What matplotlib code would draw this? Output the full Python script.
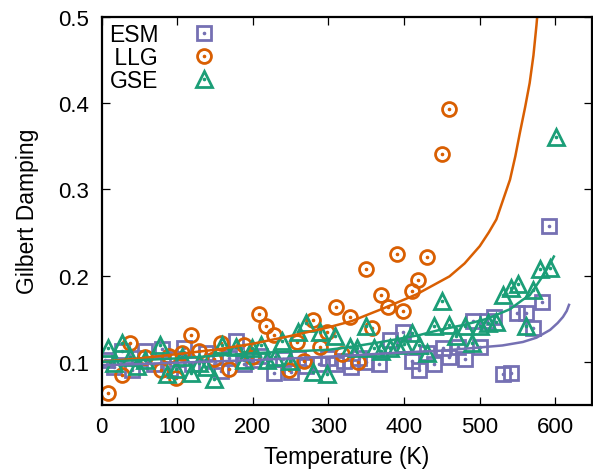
import numpy as np
import matplotlib.pyplot as plt
from matplotlib.legend_handler import HandlerTuple

plt.rcParams['font.family'] = ['Liberation Sans', 'DejaVu Sans']

# Gnuplot Dark2-like colours
c_esm = '#7570b3'
c_llg = '#d95f02'
c_gse = '#1b9e77'

# ESM data (temperature K, damping)
esm_t = [5, 16, 27, 40, 50, 58, 70, 80, 91, 100, 109, 120, 138, 150, 158, 168,
         178, 188, 200, 210, 228, 240, 251, 260, 270, 288, 300, 310, 320, 330,
         340, 350, 367, 381, 398, 410, 420, 430, 440, 451, 460, 471, 480, 491,
         500, 509, 519, 531, 541, 549, 561, 570, 582, 591]
esm_a = [0.102, 0.094, 0.113, 0.090, 0.104, 0.112, 0.097, 0.115, 0.092, 0.103,
         0.116, 0.097, 0.110, 0.101, 0.089, 0.105, 0.124, 0.098, 0.102, 0.107,
         0.087, 0.103, 0.088, 0.105, 0.095, 0.098, 0.104, 0.097, 0.101, 0.094,
         0.104, 0.100, 0.097, 0.125, 0.134, 0.101, 0.090, 0.110, 0.097, 0.116,
         0.106, 0.117, 0.103, 0.147, 0.117, 0.147, 0.152, 0.086, 0.087, 0.157,
         0.157, 0.139, 0.169, 0.257]

# LLG data
llg_t = [9, 27, 38, 58, 78, 89, 98, 106, 118, 129, 149, 158, 168, 188, 199,
         208, 218, 228, 248, 259, 268, 279, 289, 298, 310, 318, 329, 339, 350,
         358, 370, 379, 390, 399, 410, 419, 430, 450, 460]
llg_a = [0.064, 0.085, 0.122, 0.106, 0.091, 0.107, 0.081, 0.110, 0.131, 0.112,
         0.103, 0.122, 0.092, 0.120, 0.106, 0.156, 0.141, 0.131, 0.091, 0.123,
         0.101, 0.148, 0.117, 0.134, 0.164, 0.109, 0.152, 0.100, 0.207, 0.139,
         0.177, 0.164, 0.225, 0.159, 0.182, 0.195, 0.221, 0.341, 0.393]

# GSE data
gse_t = [8, 16, 27, 38, 47, 58, 77, 86, 98, 106, 118, 129, 138, 149, 159, 178,
         188, 199, 211, 219, 229, 239, 249, 260, 270, 279, 289, 298, 309, 329,
         338, 349, 360, 370, 381, 390, 400, 410, 420, 430, 439, 450, 460, 469,
         480, 490, 500, 511, 521, 531, 541, 551, 561, 570, 580, 593, 601]
gse_a = [0.116, 0.099, 0.122, 0.106, 0.095, 0.102, 0.120, 0.086, 0.092, 0.106,
         0.087, 0.099, 0.094, 0.080, 0.120, 0.117, 0.102, 0.116, 0.120, 0.102,
         0.106, 0.124, 0.101, 0.134, 0.145, 0.088, 0.135, 0.086, 0.130, 0.117,
         0.116, 0.142, 0.116, 0.113, 0.116, 0.120, 0.121, 0.133, 0.120, 0.110,
         0.142, 0.170, 0.143, 0.130, 0.142, 0.122, 0.142, 0.145, 0.146, 0.178,
         0.186, 0.190, 0.142, 0.183, 0.207, 0.209, 0.361]

# fitted curves
esm_fit_t = [0, 100, 200, 300, 400, 450, 491, 530, 557, 575, 593, 603, 610, 615, 618]
esm_fit_a = [0.096, 0.099, 0.102, 0.106, 0.111, 0.113, 0.116, 0.119, 0.123,
             0.128, 0.137, 0.145, 0.152, 0.159, 0.166]
llg_fit_t = [0, 50, 100, 150, 200, 250, 300, 330, 370, 416, 460, 480, 500, 512,
             522, 531, 540, 547, 553, 560, 566, 571, 575, 578]
llg_fit_a = [0.100, 0.104, 0.109, 0.114, 0.121, 0.130, 0.140, 0.147, 0.161,
             0.178, 0.199, 0.214, 0.234, 0.250, 0.265, 0.288, 0.311, 0.338,
             0.365, 0.395, 0.423, 0.455, 0.490, 0.52]
gse_fit_t = [0, 100, 200, 300, 327, 370, 420, 447, 480, 510, 540, 557, 566, 580, 590, 598]
gse_fit_a = [0.100, 0.104, 0.110, 0.114, 0.117, 0.123, 0.131, 0.137, 0.143,
             0.150, 0.161, 0.172, 0.177, 0.195, 0.209, 0.222]

fig = plt.figure(figsize=(5.93, 4.77), dpi=100)
ax = fig.add_axes([0.1712, 0.1488, 0.8266, 0.8145])

ms = {'s': 9.5, 'o': 10, '^': 11}
handles = []
for t, a, m, c in [(esm_t, esm_a, 's', c_esm), (llg_t, llg_a, 'o', c_llg),
                   (gse_t, gse_a, '^', c_gse)]:
    h1, = ax.plot(t, a, m, ms=ms[m], mfc='none', mec=c, mew=2.0, ls='none')
    h2, = ax.plot(t, a, 'o', ms=1.6, color=c, ls='none')
    handles.append((h1, h2))

ax.plot(esm_fit_t, esm_fit_a, color=c_esm, lw=1.8)
ax.plot(llg_fit_t, llg_fit_a, color=c_llg, lw=1.8)
ax.plot(gse_fit_t, gse_fit_a, color=c_gse, lw=1.8)

ax.set_xlim(0, 648)
ax.set_ylim(0.05, 0.5)
ax.set_xticks([0, 100, 200, 300, 400, 500, 600])
ax.set_yticks([0.1, 0.2, 0.3, 0.4, 0.5])
ax.set_yticklabels(['0.1', '0.2', '0.3', '0.4', '0.5'])
ax.tick_params(direction='in', length=6, width=0.9, labelsize=16,
               top=True, right=True)
ax.tick_params(axis='x', pad=8)
ax.tick_params(axis='y', pad=9)
for s in ax.spines.values():
    s.set_linewidth(1.6)

ax.set_xlabel('Temperature (K)', fontsize=16.5, labelpad=6)
ax.set_ylabel('Gilbert Damping', fontsize=16.5, labelpad=14)

leg = ax.legend(handles, ['ESM', ' LLG', 'GSE'], loc='upper left',
                handler_map={tuple: HandlerTuple(ndivide=1, pad=0)},
                markerfirst=False, frameon=False, fontsize=16.5,
                handlelength=1.0, handletextpad=1.5, labelspacing=0.0,
                borderaxespad=0.1, borderpad=0.2)

fig.savefig('out.png', dpi=100)
